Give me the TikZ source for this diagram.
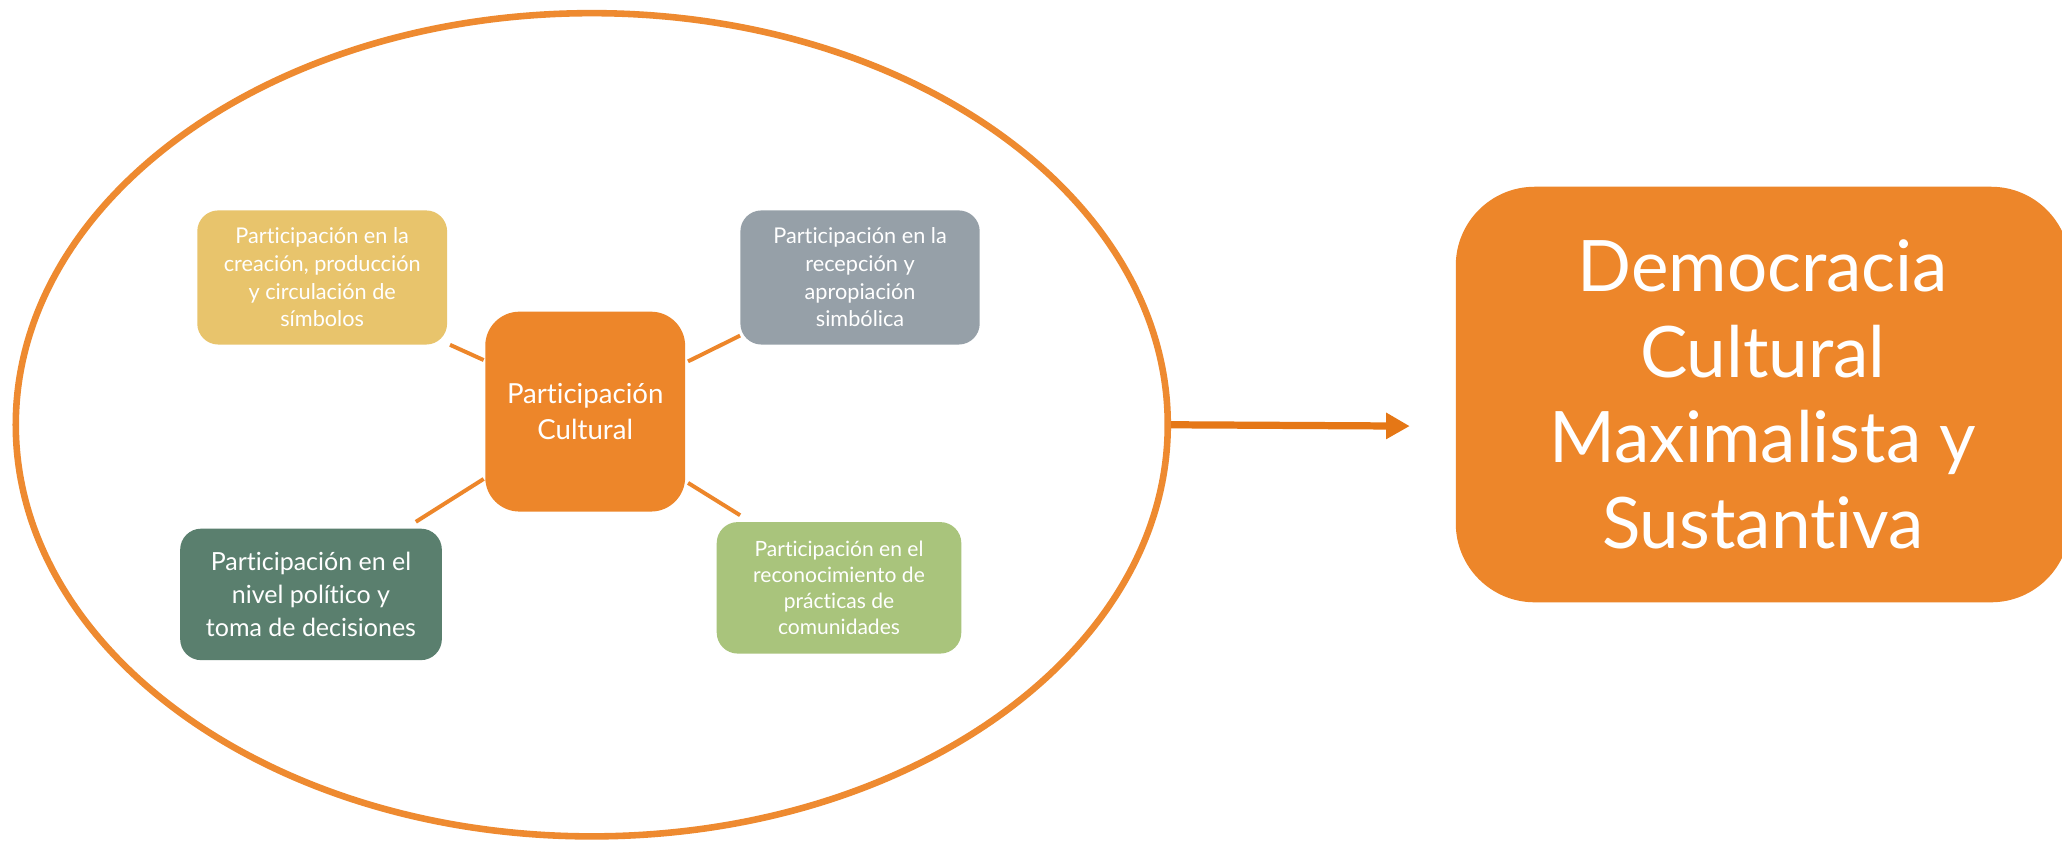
\documentclass[tikz,border=0pt]{standalone}
\usepackage{fontspec}
\setmainfont{Lato}[Ligatures=NoCommon]
\usetikzlibrary{arrows.meta,shapes.geometric}
\definecolor{cOrange}{HTML}{ED862A}
\definecolor{cRing}{HTML}{EE8A30}
\definecolor{cArrow}{HTML}{E57716}
\definecolor{cYellow}{HTML}{E8C46C}
\definecolor{cGray}{HTML}{96A0A8}
\definecolor{cDark}{HTML}{5A7F6E}
\definecolor{cLight}{HTML}{A9C47C}
\tikzset{
  pbox/.style={rounded corners=16pt, inner sep=0pt, align=center, text=white,
    font=\fontsize{16.5}{21}\selectfont},
  link/.style={draw=cOrange, line width=3pt},
}
\begin{document}
\begin{tikzpicture}[x=1pt,y=-1pt]
\useasboundingbox (0,0) rectangle (1568,640);
\fill[white] (0,0) rectangle (1568,640);
\node[ellipse, draw=cRing, line width=5pt, minimum width=876pt, minimum height=626pt, inner sep=0pt] (e) at (450,323) {};
\node[pbox, fill=cYellow, minimum width=190pt, minimum height=102pt] (y) at (245,211)
  {Participación en la\\creación, producción\\y circulación de\\símbolos};
\node[pbox, fill=cGray, minimum width=182pt, minimum height=102pt] (g) at (654,211)
  {Participación en la\\recepción y\\apropiación\\simbólica};
\node[pbox, fill=cOrange, rounded corners=26pt, minimum width=152pt, minimum height=152pt,
  font=\fontsize{21}{27}\selectfont] (c) at (445,313)
  {Participación\\Cultural};
\node[pbox, fill=cDark, minimum width=199pt, minimum height=100pt,
  font=\fontsize{19}{25}\selectfont] (d) at (236.5,452)
  {Participación en el\\nivel político y\\toma de decisiones};
\node[pbox, fill=cLight, minimum width=186pt, minimum height=100pt,
  font=\fontsize{16}{20}\selectfont] (l) at (638,447)
  {Participación en el\\reconocimiento de\\prácticas de\\comunidades};
\node[pbox, fill=cOrange, rounded corners=60pt, minimum width=467pt, minimum height=316pt,
  font=\fontsize{54}{65}\selectfont] (big) at (1340.5,300)
  {Democracia\\Cultural\\Maximalista y\\Sustantiva};
\draw[link] ([shift={(2,0)}]y.south east) -- ([shift={(-1,37)}]c.north west);
\draw[link] ([shift={(0,-7)}]g.south west) -- ([shift={(2,38)}]c.north east);
\draw[link] ([shift={(-20,-5)}]d.north east) -- ([shift={(-1,-25)}]c.south west);
\draw[link] ([shift={(18,-5)}]l.north west) -- ([shift={(2,-22)}]c.south east);
\coordinate (tip) at (1072,324);
\draw[draw=cArrow, line width=5.5pt, -{Triangle[length=18pt,width=19pt]}] (e.east) -- (tip);
\end{tikzpicture}
\end{document}
